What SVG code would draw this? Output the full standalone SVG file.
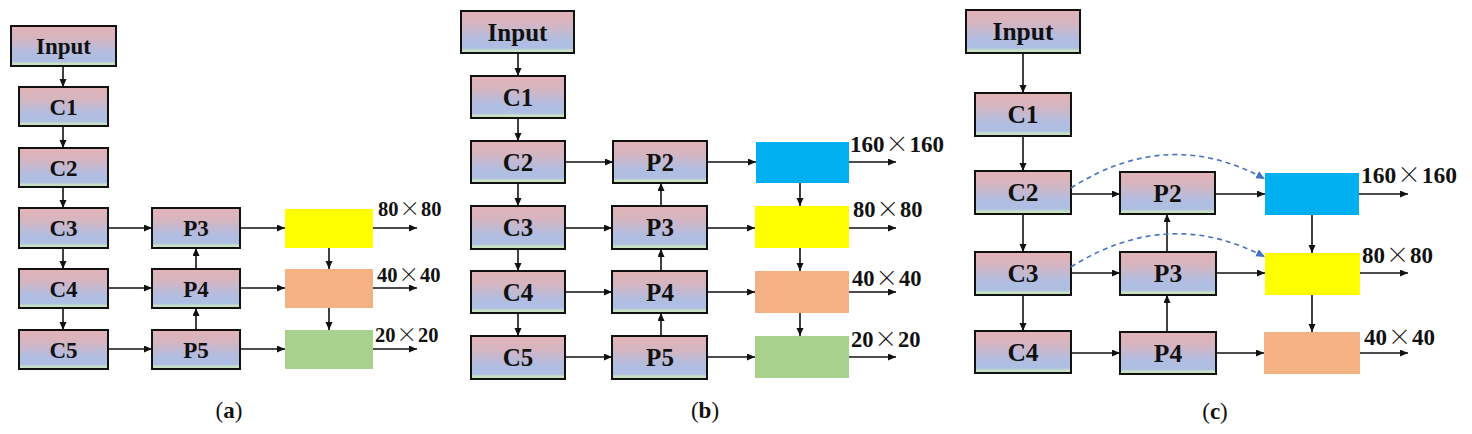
<svg xmlns="http://www.w3.org/2000/svg" width="1472" height="434" viewBox="0 0 1472 434">
<style>
.nd{fill:url(#g);stroke:#111;stroke-width:2}
.lb{font-family:"Liberation Serif","Times New Roman",serif;font-weight:bold;fill:#111;text-anchor:middle}
.ta{font-size:23px}.tb{font-size:25px}.tc{font-size:25.5px}
.dim{font-family:"Liberation Serif","Times New Roman",serif;font-weight:bold;fill:#111}
.mul{font-family:"Noto Sans CJK SC","Liberation Serif",serif;font-weight:300;font-variant-east-asian:full-width}
.ar{stroke:#111;stroke-width:1.6;fill:none;marker-end:url(#ah)}
.da{stroke:#4472c4;stroke-width:1.6;fill:none;stroke-dasharray:5 4;marker-end:url(#ahb)}
.cap{font-family:"Liberation Serif","Times New Roman",serif;font-size:23px;fill:#111;text-anchor:middle}
</style>
<defs>
<linearGradient id="g" x1="0" y1="0" x2="0" y2="1">
<stop offset="0" stop-color="#e2b3b6"/>
<stop offset="0.3" stop-color="#d6b5c0"/>
<stop offset="0.68" stop-color="#b1bde1"/>
<stop offset="0.88" stop-color="#adbfe3"/>
<stop offset="0.94" stop-color="#c8e0c6"/>
<stop offset="1" stop-color="#c8e2b6"/>
</linearGradient>
<marker id="ah" markerUnits="userSpaceOnUse" markerWidth="9" markerHeight="8" refX="8" refY="3.5" orient="auto"><path d="M0,0 L8,3.5 L0,7 z" fill="#111"/></marker>
<marker id="ahb" markerUnits="userSpaceOnUse" markerWidth="10" markerHeight="9" refX="9" refY="4" orient="auto"><path d="M0,0 L9,4 L0,8 z" fill="#4472c4"/></marker>
</defs>
<rect width="1472" height="434" fill="#fff"/>

<!-- Panel (a) -->
<g id="a-input"><rect class="nd" x="11" y="26" width="105" height="40"/><text class="lb ta" x="63.5" y="54">Input</text></g>
<g id="a-c1"><rect class="nd" x="19" y="87" width="89" height="39"/><text class="lb ta" x="63.5" y="114.5">C1</text></g>
<g id="a-c2"><rect class="nd" x="19" y="148" width="89" height="39"/><text class="lb ta" x="63.5" y="175.5">C2</text></g>
<g id="a-c3"><rect class="nd" x="19" y="208" width="89" height="40"/><text class="lb ta" x="63.5" y="236">C3</text></g>
<g id="a-c4"><rect class="nd" x="19" y="269" width="89" height="39"/><text class="lb ta" x="63.5" y="296.5">C4</text></g>
<g id="a-c5"><rect class="nd" x="19" y="330" width="89" height="39"/><text class="lb ta" x="63.5" y="357.5">C5</text></g>
<g id="a-p3"><rect class="nd" x="152" y="208" width="88" height="40"/><text class="lb ta" x="196" y="236">P3</text></g>
<g id="a-p4"><rect class="nd" x="152" y="269" width="88" height="39"/><text class="lb ta" x="196" y="296.5">P4</text></g>
<g id="a-p5"><rect class="nd" x="152" y="330" width="88" height="39"/><text class="lb ta" x="196" y="357.5">P5</text></g>
<g id="a-o3"><rect x="285" y="209" width="88" height="39" fill="#ffff00"/></g>
<g id="a-o4"><rect x="285" y="269" width="88" height="39" fill="#f4b183"/></g>
<g id="a-o5"><rect x="285" y="330" width="88" height="39" fill="#a9d18e"/></g>
<text class="dim" x="378" y="216" font-size="20.5px">80<tspan class="mul" dx="1">×</tspan><tspan dx="1">80</tspan></text>
<text class="dim" x="377" y="282" font-size="20.5px">40<tspan class="mul" dx="1">×</tspan><tspan dx="1">40</tspan></text>
<text class="dim" x="375" y="342" font-size="20.5px">20<tspan class="mul" dx="1">×</tspan><tspan dx="1">20</tspan></text>
<text class="cap" x="229" y="418">(<tspan font-weight="bold">a</tspan>)</text>

<!-- Panel (b) -->
<g id="b-input"><rect class="nd" x="461" y="11" width="113" height="42"/><text class="lb tb" x="517.5" y="40.5">Input</text></g>
<g id="b-c1"><rect class="nd" x="471" y="76" width="94" height="42"/><text class="lb tb" x="518" y="105.5">C1</text></g>
<g id="b-c2"><rect class="nd" x="471" y="141" width="94" height="42"/><text class="lb tb" x="518" y="170.5">C2</text></g>
<g id="b-c3"><rect class="nd" x="471" y="206" width="94" height="43"/><text class="lb tb" x="518" y="236">C3</text></g>
<g id="b-c4"><rect class="nd" x="471" y="271" width="94" height="42"/><text class="lb tb" x="518" y="300.5">C4</text></g>
<g id="b-c5"><rect class="nd" x="471" y="336" width="94" height="43"/><text class="lb tb" x="518" y="366">C5</text></g>
<g id="b-p2"><rect class="nd" x="613" y="141" width="94" height="42"/><text class="lb tb" x="660" y="170.5">P2</text></g>
<g id="b-p3"><rect class="nd" x="612" y="206" width="95" height="43"/><text class="lb tb" x="660" y="236">P3</text></g>
<g id="b-p4"><rect class="nd" x="612" y="271" width="95" height="42"/><text class="lb tb" x="660" y="300.5">P4</text></g>
<g id="b-p5"><rect class="nd" x="612" y="336" width="95" height="43"/><text class="lb tb" x="660" y="366">P5</text></g>
<g id="b-o2"><rect x="756" y="142" width="93" height="41" fill="#00b0f0"/></g>
<g id="b-o3"><rect x="755" y="206" width="94" height="42" fill="#ffff00"/></g>
<g id="b-o4"><rect x="755" y="271" width="94" height="42" fill="#f4b183"/></g>
<g id="b-o5"><rect x="755" y="336" width="94" height="42" fill="#a9d18e"/></g>
<text class="dim" x="850" y="152" font-size="23px">160<tspan class="mul" dx="1">×</tspan><tspan dx="1">160</tspan></text>
<text class="dim" x="853" y="217" font-size="22.5px">80<tspan class="mul" dx="1">×</tspan><tspan dx="1">80</tspan></text>
<text class="dim" x="852" y="286" font-size="22.5px">40<tspan class="mul" dx="1">×</tspan><tspan dx="1">40</tspan></text>
<text class="dim" x="851" y="347" font-size="22.5px">20<tspan class="mul" dx="1">×</tspan><tspan dx="1">20</tspan></text>
<text class="cap" x="705" y="418">(<tspan font-weight="bold">b</tspan>)</text>

<!-- Panel (c) -->
<g id="c-input"><rect class="nd" x="966" y="10" width="114" height="43"/><text class="lb tc" x="1023" y="40">Input</text></g>
<g id="c-c1"><rect class="nd" x="975" y="93" width="96" height="43"/><text class="lb tc" x="1023" y="123">C1</text></g>
<g id="c-c2"><rect class="nd" x="975" y="171" width="96" height="43"/><text class="lb tc" x="1023" y="201">C2</text></g>
<g id="c-c3"><rect class="nd" x="975" y="252" width="96" height="43"/><text class="lb tc" x="1023" y="282">C3</text></g>
<g id="c-c4"><rect class="nd" x="975" y="331" width="96" height="42"/><text class="lb tc" x="1023" y="360.5">C4</text></g>
<g id="c-p2"><rect class="nd" x="1120" y="172" width="95" height="42"/><text class="lb tc" x="1167.5" y="201.5">P2</text></g>
<g id="c-p3"><rect class="nd" x="1120" y="252" width="96" height="43"/><text class="lb tc" x="1168" y="282">P3</text></g>
<g id="c-p4"><rect class="nd" x="1120" y="332" width="96" height="42"/><text class="lb tc" x="1168" y="361.5">P4</text></g>
<g id="c-o2"><rect x="1265" y="173" width="94" height="42" fill="#00b0f0"/></g>
<g id="c-o3"><rect x="1265" y="253" width="95" height="42" fill="#ffff00"/></g>
<g id="c-o4"><rect x="1264" y="332" width="96" height="42" fill="#f4b183"/></g>
<text class="dim" x="1361" y="183" font-size="23.5px">160<tspan class="mul" dx="1">×</tspan><tspan dx="1">160</tspan></text>
<text class="dim" x="1362" y="263" font-size="23px">80<tspan class="mul" dx="1">×</tspan><tspan dx="1">80</tspan></text>
<text class="dim" x="1364" y="345" font-size="23px">40<tspan class="mul" dx="1">×</tspan><tspan dx="1">40</tspan></text>
<text class="cap" x="1215" y="419">(<tspan font-weight="bold">c</tspan>)</text>

<g id="connectors">
<!-- (a) -->
<path class="ar" d="M63,66V87"/><path class="ar" d="M63,126V148"/><path class="ar" d="M63,187V208"/><path class="ar" d="M63,248V269"/><path class="ar" d="M63,308V330"/>
<path class="ar" d="M196,269V248"/><path class="ar" d="M196,330V308"/>
<path class="ar" d="M329,248V269"/><path class="ar" d="M329,308V330"/>
<path class="ar" d="M108,228H152"/><path class="ar" d="M240,228H285"/><path class="ar" d="M373,228H417"/>
<path class="ar" d="M108,288H152"/><path class="ar" d="M240,288H285"/><path class="ar" d="M373,288H417"/>
<path class="ar" d="M108,349H152"/><path class="ar" d="M240,349H285"/><path class="ar" d="M373,349H417"/>
<!-- (b) -->
<path class="ar" d="M518,53V76"/><path class="ar" d="M518,118V141"/><path class="ar" d="M518,183V206"/><path class="ar" d="M518,249V271"/><path class="ar" d="M518,313V336"/>
<path class="ar" d="M661,206V183"/><path class="ar" d="M661,271V249"/><path class="ar" d="M661,336V313"/>
<path class="ar" d="M800,183V206"/><path class="ar" d="M800,248V271"/><path class="ar" d="M800,313V336"/>
<path class="ar" d="M565,162H613"/><path class="ar" d="M707,162H756"/><path class="ar" d="M849,162H896"/>
<path class="ar" d="M565,228H612"/><path class="ar" d="M707,228H755"/><path class="ar" d="M849,228H896"/>
<path class="ar" d="M565,292H612"/><path class="ar" d="M707,292H755"/><path class="ar" d="M849,292H896"/>
<path class="ar" d="M565,357H612"/><path class="ar" d="M707,357H755"/><path class="ar" d="M849,357H896"/>
<!-- (c) -->
<path class="ar" d="M1023,53V93"/><path class="ar" d="M1023,136V171"/><path class="ar" d="M1023,214V252"/><path class="ar" d="M1023,295V331"/>
<path class="ar" d="M1167,332V295"/><path class="ar" d="M1167,252V214"/>
<path class="ar" d="M1312,215V253"/><path class="ar" d="M1312,295V332"/>
<path class="ar" d="M1071,194H1120"/><path class="ar" d="M1215,194H1265"/><path class="ar" d="M1359,194H1408"/>
<path class="ar" d="M1071,273H1120"/><path class="ar" d="M1216,273H1265"/><path class="ar" d="M1360,273H1408"/>
<path class="ar" d="M1071,353H1120"/><path class="ar" d="M1216,353H1264"/><path class="ar" d="M1360,353H1408"/>
<path class="da" d="M1071,188Q1168,126 1265,179"/>
<path class="da" d="M1071,267Q1168,206 1265,257"/>
</g>
</svg>
